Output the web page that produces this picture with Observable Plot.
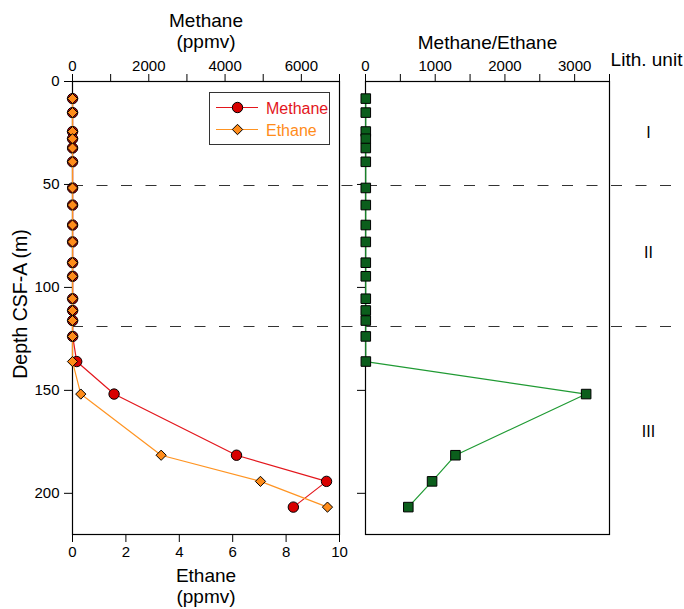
<!DOCTYPE html>
<html><head><meta charset="utf-8">
<script src="https://cdn.jsdelivr.net/npm/d3@7"></script>
<script src="https://cdn.jsdelivr.net/npm/@observablehq/plot@0.6"></script>
<style>
body{margin:0;background:#fff;}
#chart{position:relative;width:684px;height:609px;font-family:"Liberation Sans",Arial,Helvetica,sans-serif;}
#chart > svg{position:absolute;left:0;top:0;}
#legend{position:absolute;left:209px;top:92px;width:121px;height:53px;box-sizing:border-box;border:1px solid #333;background:#fff;}
#legend svg{display:block;}
</style></head><body><div id="chart"></div>
<script>
// ---- data ----
const depth   = [8.3,15.1,24.3,27.8,32.3,39.0,51.7,60.0,69.7,77.9,88.0,94.6,105.5,111.2,116.1,123.8,136.0,151.8,181.5,194.2,206.7];
const methane = [2,2,2,2,2,2,3,3,3,3,3,4,4,4,4,5,110,1090,4300,6660,5790];
const ethane  = [0,0,0,0,0,0,0,0,0,0,0,0,0,0,0,0,0,0.31,3.32,7.04,9.55];
const ratio   = [4,4,4,4,4,4,4,4,4,4,4,4,4,4,4,4,5,3165,1290,955,614];
const lithBoundaries = [50.5, 119];
const lithUnits  = ["I","II","III"];
const lithDepths = [25, 83, 170];
const methaneTicks = [0,1000,2000,3000,4000,5000,6000,7000];
const ethaneTicks  = [0,2,4,6,8,10];
const ratioTicks   = [0,500,1000,1500,2000,2500,3000,3500];
const depthTicks   = [0,50,100,150,200];

const rows = depth.map((d,i)=>({depth:d, methane:methane[i], ethane:ethane[i], ratio:ratio[i]}));
const lith = lithUnits.map((n,i)=>({name:n, depth:lithDepths[i]}));

const FONT = '"Liberation Sans", Arial, Helvetica, sans-serif';
const RED = "#d80000", RED_LINE = "#e3161c";
const ORANGE = "#ff8c1a", ORANGE_LINE = "#ff9422";
const GREEN = "#0b5e1c", GREEN_LINE = "#1f9a33";

const common = {
  width: 684, height: 609, marginTop: 81, marginBottom: 75,
  y: {domain: [0, 220], reverse: true, axis: null},
  style: {background: "transparent", fontFamily: FONT, overflow: "visible"}
};

const methanePlot = Plot.plot({
  ...common, marginLeft: 72, marginRight: 345,
  x: {domain: [0, 7000], axis: null},
  marks: [
    Plot.ruleY(lithBoundaries, {stroke: "#333", strokeWidth: 1.1, strokeDasharray: "11,13.5", insetRight: -345}),
    Plot.frame({stroke: "black", strokeWidth: 1.2}),
    Plot.axisX({anchor: "top", ticks: methaneTicks, tickFormat: d => d % 2000 === 0 ? String(d) : "", tickSize: 8, tickPadding: 3, fontSize: 15, label: null}),
    Plot.text(["Methane\n(ppmv)"], {text: d => d, frameAnchor: "top", textAnchor: "middle", lineAnchor: "bottom", dy: -33.5, fontSize: 19, lineHeight: 1.1}),
    Plot.line(rows, {x: "methane", y: "depth", stroke: RED_LINE, strokeWidth: 1.2}),
    Plot.dot(rows, {x: "methane", y: "depth", r: 5.2, fill: RED, stroke: "black", strokeWidth: 1})
  ]
});

const ethanePlot = Plot.plot({
  ...common, marginLeft: 72, marginRight: 345,
  x: {domain: [0, 10], axis: null},
  marks: [
    Plot.axisX({anchor: "bottom", ticks: ethaneTicks, tickSize: 8, tickPadding: 4, fontSize: 15, label: null}),
    Plot.axisY({anchor: "left", ticks: depthTicks, tickSize: 8, tickPadding: 5, fontSize: 15, label: null}),
    Plot.text(["Depth CSF-A (m)"], {text: d => d, frameAnchor: "left", textAnchor: "middle", lineAnchor: "middle", rotate: -90, dx: -52, dy: -4, fontSize: 19.5}),
    Plot.text(["Ethane\n(ppmv)"], {text: d => d, frameAnchor: "bottom", textAnchor: "middle", lineAnchor: "bottom", dy: 68.5, fontSize: 19, lineHeight: 1.1}),
    Plot.line(rows, {x: "ethane", y: "depth", stroke: ORANGE_LINE, strokeWidth: 1.2}),
    Plot.dot(rows, {x: "ethane", y: "depth", symbol: "diamond2", r: 4.6, fill: ORANGE, stroke: "black", strokeWidth: 1})
  ]
});

const ratioPlot = Plot.plot({
  ...common, marginLeft: 365, marginRight: 75,
  x: {domain: [0, 3500], axis: null},
  marks: [
    Plot.frame({stroke: "black", strokeWidth: 1.2}),
    Plot.axisX({anchor: "top", ticks: ratioTicks, tickFormat: d => d % 1000 === 0 ? String(d) : "", tickSize: 8, tickPadding: 3, fontSize: 15, label: null}),
    Plot.axisY({anchor: "left", ticks: [50,100,150,200], tickFormat: () => "", tickSize: 8, label: null}),
    Plot.text(["Methane/Ethane"], {text: d => d, frameAnchor: "top", textAnchor: "middle", lineAnchor: "bottom", dy: -32.5, fontSize: 19}),
    Plot.text(["Lith. unit"], {text: d => d, frameAnchor: "top-right", textAnchor: "middle", lineAnchor: "bottom", dx: 37, dy: -16, fontSize: 19}),
    Plot.text(lith, {y: "depth", text: "name", frameAnchor: "right", textAnchor: "middle", lineAnchor: "middle", dx: 39, fontSize: 16}),
    Plot.line(rows, {x: "ratio", y: "depth", stroke: GREEN_LINE, strokeWidth: 1.2}),
    Plot.dot(rows, {x: "ratio", y: "depth", symbol: "square", r: 5.4, fill: GREEN, stroke: "black", strokeWidth: 1})
  ]
});

const chart = document.getElementById("chart");
chart.append(methanePlot, ethanePlot, ratioPlot);

const legend = document.createElement("div");
legend.id = "legend";
legend.innerHTML = `<svg width="119" height="51" font-family='${FONT}'>
  <line x1="6" x2="48" y1="14.5" y2="14.5" stroke="${RED_LINE}" stroke-width="1.2"/>
  <circle cx="27.5" cy="14.5" r="5.2" fill="${RED}" stroke="#000"/>
  <text x="56" y="20.5" fill="#e3161c" font-size="16">Methane</text>
  <line x1="6" x2="48" y1="36.5" y2="36.5" stroke="${ORANGE_LINE}" stroke-width="1.2"/>
  <path d="M27.5,31.3L32.7,36.5L27.5,41.7L22.3,36.5Z" fill="${ORANGE}" stroke="#000"/>
  <text x="56" y="42.5" fill="${ORANGE}" font-size="16">Ethane</text>
</svg>`;
chart.append(legend);
</script></body></html>
